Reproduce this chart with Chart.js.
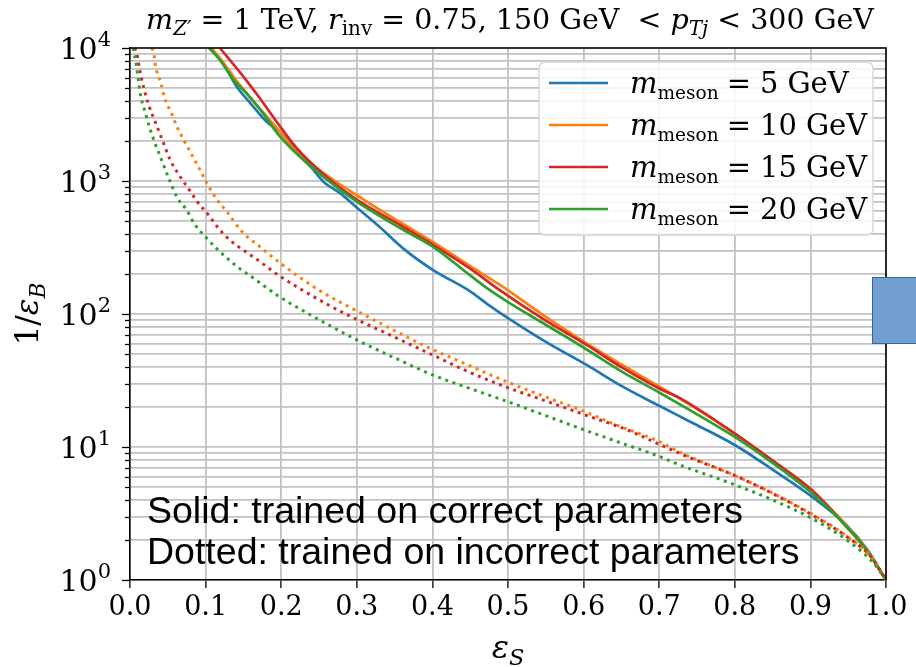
<!DOCTYPE html>
<html>
<head>
<meta charset="utf-8">
<script src="https://cdn.jsdelivr.net/npm/chart.js@4.4.0/dist/chart.umd.min.js"></script>
<style>
  html, body { margin: 0; padding: 0; background: #fff; }
</style>
</head>
<body>
<canvas id="rocChart" width="916" height="667"></canvas>
<script>
// signal efficiency (x) and background rejection 1/eps_B (y)
const mesonMasses = [5, 10, 15, 20];
const COLOURS = ["#1f77b4", "#ff7f0e", "#d62728", "#2ca02c"];

// solid: trained on correct parameters
const effS_5 = [0.105, 0.123, 0.141, 0.16, 0.18, 0.2, 0.22, 0.24, 0.256, 0.28, 0.3, 0.331, 0.362, 0.401, 0.45, 0.476, 0.5, 0.55, 0.604, 0.65, 0.7, 0.741, 0.8, 0.85, 0.902, 0.948, 0.975, 1.0];
const invB_5 = [10000, 7674, 5129, 3802, 2818, 2291, 1660, 1259, 989, 794, 631, 447, 309, 214, 148, 115, 93, 61.7, 41.4, 28.8, 20.4, 15.5, 10.35, 6.76, 4.23, 2.57, 1.7, 1];

const effS_10 = [0.108, 0.125, 0.14, 0.16, 0.18, 0.2, 0.22, 0.256, 0.309, 0.36, 0.401, 0.45, 0.489, 0.55, 0.604, 0.65, 0.7, 0.741, 0.8, 0.85, 0.9, 0.95, 0.975, 1.0];
const invB_10 = [10000, 7586, 5754, 4169, 3090, 2291, 1660, 1148, 724, 479, 347, 229, 166, 95, 60, 41.7, 28.5, 20.7, 12.6, 7.9, 4.8, 2.5, 1.68, 1];

const effS_15 = [0.119, 0.132, 0.15, 0.172, 0.196, 0.22, 0.256, 0.3, 0.36, 0.401, 0.45, 0.489, 0.55, 0.604, 0.65, 0.7, 0.728, 0.8, 0.85, 0.902, 0.948, 0.974, 1.0];
const invB_15 = [10000, 8128, 6095, 4169, 2692, 1778, 1122, 724, 457, 331, 219, 151, 89, 58.5, 39.8, 27.5, 23.2, 12.6, 7.9, 4.75, 2.5, 1.68, 1];

const effS_20 = [0.105, 0.119, 0.137, 0.154, 0.176, 0.196, 0.216, 0.256, 0.3, 0.362, 0.401, 0.45, 0.476, 0.5, 0.55, 0.6, 0.65, 0.7, 0.74, 0.8, 0.85, 0.9, 0.95, 0.975, 1.0];
const invB_20 = [10000, 8128, 5754, 4571, 3236, 2239, 1698, 1072, 700, 427, 320, 195, 151, 123, 83, 56, 37, 25.7, 19, 11.9, 7.6, 4.6, 2.45, 1.66, 1];

// dotted: trained on incorrect parameters (no 5 GeV curve)
const effS_10_wrong = [0.029, 0.031, 0.034, 0.041, 0.046, 0.054, 0.062, 0.071, 0.082, 0.093, 0.102, 0.115, 0.128, 0.148, 0.172, 0.198, 0.25, 0.302, 0.35, 0.39, 0.45, 0.503, 0.553, 0.6, 0.644, 0.7, 0.728, 0.803, 0.85, 0.902, 0.948, 0.98, 1.0];
const invB_10_wrong = [10000, 9333, 7244, 5370, 4169, 3311, 2570, 2042, 1567, 1202, 955, 724, 589, 417, 320, 243, 151, 104, 75, 57.5, 40.7, 30.2, 23.4, 18.6, 14.6, 11.0, 9.1, 6.0, 4.5, 3.13, 2.14, 1.5, 1];

const effS_15_wrong = [0.006, 0.009, 0.013, 0.02, 0.026, 0.033, 0.042, 0.053, 0.065, 0.077, 0.089, 0.104, 0.117, 0.132, 0.15, 0.168, 0.194, 0.26, 0.3, 0.35, 0.401, 0.45, 0.503, 0.553, 0.6, 0.657, 0.7, 0.728, 0.803, 0.85, 0.902, 0.948, 0.98, 1.0];
const invB_15_wrong = [10000, 9120, 6761, 4571, 3548, 2818, 2089, 1445, 1109, 881, 700, 555, 441, 360, 302, 257, 200, 119, 91, 67, 49, 36.3, 27.5, 21.9, 17.6, 13.5, 10.5, 8.9, 6.0, 4.47, 3.09, 2.12, 1.5, 1];

const effS_20_wrong = [0.004, 0.008, 0.011, 0.0145, 0.02, 0.026, 0.033, 0.041, 0.052, 0.062, 0.075, 0.086, 0.1, 0.115, 0.141, 0.168, 0.195, 0.234, 0.302, 0.35, 0.401, 0.45, 0.5, 0.55, 0.6, 0.65, 0.7, 0.728, 0.8, 0.85, 0.902, 0.948, 0.983, 1.0];
const invB_20_wrong = [10000, 7674, 5754, 4266, 3311, 2512, 1928, 1479, 1023, 759, 603, 468, 380, 309, 229, 178, 138, 102, 63, 46.8, 34.7, 27.5, 21.9, 17.2, 13.5, 10.7, 8.5, 7.3, 5.2, 4.0, 2.9, 2.0, 1.35, 1];

const xTicks = [0, 0.1, 0.2, 0.3, 0.4, 0.5, 0.6, 0.7, 0.8, 0.9, 1.0];
const yMajorTicks = [1, 10, 100, 1000, 10000];

const notes = ["Solid: trained on correct parameters", "Dotted: trained on incorrect parameters"];

const SERIF = '"DejaVu Serif", serif';
const GRID = "#c2c2c2";

function points(xs, ys) {
  return xs.map((x, i) => ({ x: x, y: ys[i] }));
}

const solid = [
  [effS_5, invB_5], [effS_10, invB_10], [effS_15, invB_15], [effS_20, invB_20],
];
const dotted = [
  [1, effS_10_wrong, invB_10_wrong], [2, effS_15_wrong, invB_15_wrong], [3, effS_20_wrong, invB_20_wrong],
];

const datasets = [];
solid.forEach(([xs, ys], i) => {
  datasets.push({
    label: "m_meson = " + mesonMasses[i] + " GeV",
    data: points(xs, ys),
    borderColor: COLOURS[i],
    borderWidth: 2.7,
    pointRadius: 0,
    cubicInterpolationMode: "monotone",
    order: 20 - i,
  });
});
dotted.forEach(([ci, xs, ys], j) => {
  datasets.push({
    label: "m_meson = " + mesonMasses[ci] + " GeV (incorrect)",
    data: points(xs, ys),
    borderColor: COLOURS[ci],
    borderWidth: 3,
    borderDash: [3, 4.6],
    pointRadius: 0,
    cubicInterpolationMode: "monotone",
    order: 10 - j,
  });
});

// draw a string built from math-like pieces: {t, it, sub, sup, gap}
function drawRich(ctx, segs, x, y, size, align, subScale) {
  const ss = subScale || 0.7;
  const parts = segs.map((s) => {
    const fs = s.sub || s.sup ? size * ss : size;
    const font = (s.it ? "italic " : "") + fs + "px " + SERIF;
    ctx.font = font;
    return {
      t: s.t,
      font: font,
      gap: s.gap || 0,
      w: ctx.measureText(s.t).width,
      dy: s.sub ? size * 0.22 : s.sup ? -size * 0.42 : 0,
    };
  });
  const total = parts.reduce((a, p) => a + p.w + p.gap, 0);
  let cx = align === "center" ? x - total / 2 : align === "right" ? x - total : x;
  ctx.textAlign = "left";
  ctx.textBaseline = "alphabetic";
  parts.forEach((p) => {
    cx += p.gap;
    ctx.font = p.font;
    ctx.fillText(p.t, cx, y + p.dy);
    cx += p.w;
  });
  return total;
}

const decorations = {
  id: "decorations",
  afterDraw(chart) {
    const ctx = chart.ctx;
    const area = chart.chartArea;
    const ys = chart.scales.y;
    ctx.save();
    ctx.fillStyle = "#000";
    ctx.strokeStyle = "#000";

    // top and right spines
    ctx.lineWidth = 1.6;
    ctx.beginPath();
    ctx.moveTo(area.left, area.top);
    ctx.lineTo(area.right, area.top);
    ctx.lineTo(area.right, area.bottom);
    ctx.stroke();

    // y tick marks, major and minor
    ctx.lineWidth = 1.3;
    ys.ticks.forEach((t) => {
      const py = Math.round(ys.getPixelForValue(t.value)) + 0.5;
      const len = yMajorTicks.includes(t.value) ? 8 : 5;
      ctx.beginPath();
      ctx.moveTo(area.left - len, py);
      ctx.lineTo(area.left, py);
      ctx.stroke();
    });

    // y tick labels 10^n
    yMajorTicks.forEach((v, n) => {
      const py = ys.getPixelForValue(v);
      drawRich(ctx, [{ t: "10" }, { t: String(n), sup: true }], 111, py + 11, 30, "right");
    });

    // title
    drawRich(ctx, [
      { t: "m", it: true }, { t: "Z\u2032", it: true, sub: true },
      { t: " = 1 TeV, " },
      { t: "r", it: true }, { t: "inv", sub: true },
      { t: " = 0.75, 150 GeV  < " },
      { t: "p", it: true }, { t: "Tj", it: true, sub: true },
      { t: " < 300 GeV" },
    ], (area.left + area.right) / 2 + 2, 29, 28.5, "center");

    // x axis title
    drawRich(ctx, [{ t: "\u03b5", it: true }, { t: "S", it: true, sub: true }],
      (area.left + area.right) / 2, 658, 32, "center");

    // y axis title
    ctx.save();
    ctx.translate(38, (area.top + area.bottom) / 2);
    ctx.rotate(-Math.PI / 2);
    drawRich(ctx, [{ t: "1/" }, { t: "\u03b5", it: true }, { t: "B", it: true, sub: true }], 0, 0, 31, "center");
    ctx.restore();

    // legend box
    const lx = 539, ly = 62, lw = 334, lh = 173;
    ctx.beginPath();
    ctx.roundRect(lx, ly, lw, lh, 6);
    ctx.fillStyle = "rgba(255,255,255,0.85)";
    ctx.fill();
    ctx.strokeStyle = "#d4d4d4";
    ctx.lineWidth = 1.3;
    ctx.stroke();
    mesonMasses.forEach((m, i) => {
      const ey = 83 + i * 42;
      ctx.strokeStyle = COLOURS[i];
      ctx.lineWidth = 2.7;
      ctx.beginPath();
      ctx.moveTo(549, ey);
      ctx.lineTo(608, ey);
      ctx.stroke();
      ctx.fillStyle = "#000";
      drawRich(ctx, [
        { t: "m", it: true }, { t: "meson", sub: true },
        { t: "=", gap: 8 }, { t: String(m), gap: 9 }, { t: "GeV", gap: 9 },
      ], 630, ey + 10, 29, "left", 0.64);
    });

    // overlaid note text
    ctx.fillStyle = "#000";
    ctx.font = '37.5px "Liberation Sans", Arial, sans-serif';
    ctx.textAlign = "left";
    ctx.textBaseline = "alphabetic";
    ctx.fillText(notes[0], 147, 523);
    ctx.fillText(notes[1], 147, 564);

    // stray blue shape at the right edge
    ctx.fillStyle = "#729fcf";
    ctx.strokeStyle = "#3465a4";
    ctx.lineWidth = 1;
    ctx.fillRect(872, 277, 50, 67);
    ctx.strokeRect(872.5, 277.5, 50, 66);

    ctx.restore();
  },
};

new Chart(document.getElementById("rocChart"), {
  type: "line",
  data: { datasets: datasets },
  options: {
    responsive: false,
    animation: false,
    events: [],
    layout: { padding: { top: 48, right: 30, left: 0, bottom: 0 } },
    plugins: {
      legend: { display: false },
      tooltip: { enabled: false },
      title: { display: false },
    },
    elements: { point: { radius: 0 } },
    scales: {
      x: {
        type: "linear",
        min: 0,
        max: 1,
        afterBuildTicks: (scale) => {
          scale.ticks = xTicks.map((v) => ({ value: v }));
        },
        afterFit: (scale) => {
          scale.height = 87;
        },
        ticks: {
          callback: (v) => Number(v).toFixed(1),
          font: { family: SERIF, size: 27 },
          color: "#000",
          padding: 4,
          maxRotation: 0,
          autoSkip: false,
        },
        grid: {
          color: GRID,
          lineWidth: 1.8,
          tickColor: "#000",
          tickLength: 8,
          tickWidth: 1.3,
        },
        border: { display: true, color: "#000", width: 1.6 },
      },
      y: {
        type: "logarithmic",
        min: 1,
        max: 10000,
        afterBuildTicks: (scale) => {
          const ticks = [];
          yMajorTicks.forEach((d, k) => {
            for (let m = 1; m <= 9; m++) {
              if (k === yMajorTicks.length - 1 && m > 1) break;
              ticks.push({ value: d * m, major: m === 1 });
            }
          });
          scale.ticks = ticks;
        },
        afterFit: (scale) => {
          scale.width = 130;
        },
        ticks: { display: false },
        grid: {
          color: GRID,
          lineWidth: 1.8,
          drawTicks: false,
        },
        border: { display: true, color: "#000", width: 1.6 },
      },
    },
  },
  plugins: [decorations],
});
</script>
</body>
</html>
